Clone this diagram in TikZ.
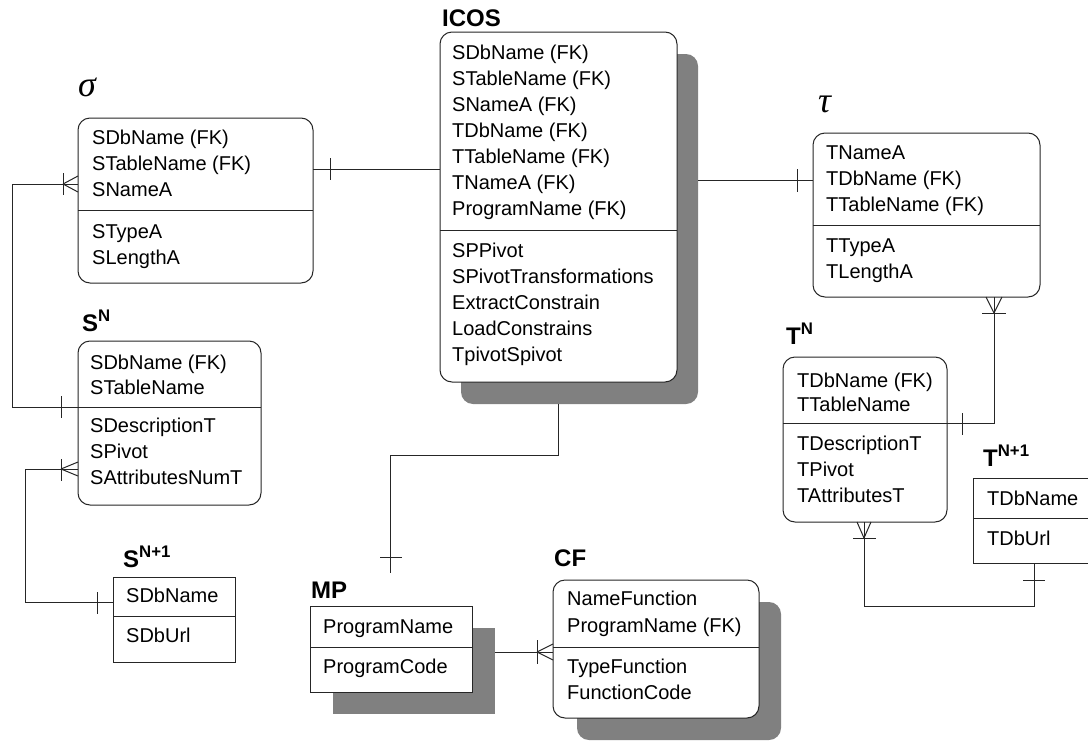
\documentclass[tikz,border=0pt]{standalone}
\usepackage{fontspec}
\setmainfont{Liberation Sans}
\newfontfamily\greekfont{Liberation Serif}
\newcommand\fieldrows[5]{% name prefix, x, first baseline, line step, fields
  \foreach \t [count=\i from 0] in {#5}
    \node[row] (#1\i) at (#2,{#3+\i*#4}) {\t};}
\tikzset{
  ent/.style={draw=black!85, line width=1pt, fill=white, rounded corners=12pt,
    anchor=north west, inner sep=0pt, outer sep=0pt},
  sqent/.style={ent, sharp corners},
  shade/.style={fill=black!50, draw=none, rounded corners=12pt,
    anchor=north west, inner sep=0pt, outer sep=0pt},
  sqshade/.style={shade, sharp corners},
  row/.style={anchor=base west, inner sep=0pt, font=\fontsize{20}{24}\selectfont},
  title/.style={anchor=base west, inner sep=0pt, font=\fontsize{24}{28}\selectfont\bfseries},
  greek/.style={anchor=base west, inner sep=0pt, font=\greekfont\itshape\fontsize{36}{40}\selectfont},
  conn/.style={line width=1pt, draw=black!85},
  divider/.style={line width=1pt, draw=black!85},
}
\begin{document}
\begin{tikzpicture}[x=1pt, y=-1pt]
\useasboundingbox (0,0) rectangle (1088,742);

% ---- shadows ----
\node[shade, minimum width=237pt, minimum height=350pt] (icossh) at (461,54) {};
\node[sqshade, minimum width=162pt, minimum height=86pt] (mpsh) at (333,628) {};
\node[shade, minimum width=204pt, minimum height=138pt] (cfsh) at (577,602) {};

% ---- entity boxes ----
\node[ent, minimum width=235pt, minimum height=165pt] (sig) at (78,118) {};
\node[ent, minimum width=237pt, minimum height=350pt] (icos) at (440,32) {};
\node[ent, minimum width=227pt, minimum height=164pt] (tau) at (813,133) {};
\node[ent, minimum width=183pt, minimum height=164pt] (sn) at (78,341) {};
\node[sqent, minimum width=122pt, minimum height=85pt] (sn1) at (113,577) {};
\node[sqent, minimum width=162pt, minimum height=86pt] (mp) at (310,606) {};
\node[ent, minimum width=206pt, minimum height=138pt] (cf) at (553,580) {};
\node[ent, minimum width=164pt, minimum height=165pt] (tn) at (783,357) {};
\node[sqent, minimum width=115pt, minimum height=85pt] (tn1) at (973,478) {};

% ---- key / attribute dividers ----
\draw[divider] (sig.west |- 0,210) -- (sig.east |- 0,210);
\draw[divider] (icos.west |- 0,230) -- (icos.east |- 0,230);
\draw[divider] (tau.west |- 0,225) -- (tau.east |- 0,225);
\draw[divider] (sn.west |- 0,407) -- (sn.east |- 0,407);
\draw[divider] (sn1.west |- 0,616) -- (sn1.east |- 0,616);
\draw[divider] (mp.west |- 0,647) -- (mp.east |- 0,647);
\draw[divider] (cf.west |- 0,647) -- (cf.east |- 0,647);
\draw[divider] (tn.west |- 0,423) -- (tn.east |- 0,423);
\draw[divider] (tn1.west |- 0,518) -- (tn1.east |- 0,518);

% ---- entity titles ----
\node[greek] (sigT) at (78,96) {σ};
\node[greek] (tauT) at (818,112) {τ};
\node[title] (icosT) at (442,26) {ICOS};
\node[title] (snT) at (82,331) {S\textsuperscript{N}};
\node[title] (sn1T) at (123,567) {S\textsuperscript{N+1}};
\node[title] (mpT) at (311,598) {MP};
\node[title] (cfT) at (554,566) {CF};
\node[title] (tnT) at (786,344) {T\textsuperscript{N}};
\node[title] (tn1T) at (983,466) {T\textsuperscript{N+1}};

% ---- attributes ----
\fieldrows{sigK}{92}{144}{26}{SDbName (FK),STableName (FK),SNameA}
\fieldrows{sigA}{92}{238}{26}{STypeA,SLengthA}
\fieldrows{icosK}{452}{59}{26}{SDbName (FK),STableName (FK),SNameA (FK),TDbName (FK),TTableName (FK),TNameA (FK),ProgramName (FK)}
\fieldrows{icosA}{452}{257}{26.2}{SPPivot,SPivotTransformations,ExtractConstrain,LoadConstrains,TpivotSpivot}
\fieldrows{tauK}{826}{159}{26}{TNameA,TDbName (FK),TTableName (FK)}
\fieldrows{tauA}{826}{252}{26}{TTypeA,TLengthA}
\fieldrows{snK}{90}{369}{25}{SDbName (FK),STableName}
\fieldrows{snA}{90}{432}{26}{SDescriptionT,SPivot,SAttributesNumT}
\fieldrows{sn1K}{126}{602}{26}{SDbName}
\fieldrows{sn1A}{126}{642}{26}{SDbUrl}
\fieldrows{mpK}{323}{633}{26}{ProgramName}
\fieldrows{mpA}{323}{673}{26}{ProgramCode}
\fieldrows{cfK}{567}{605}{27}{NameFunction,ProgramName (FK)}
\fieldrows{cfA}{567}{673}{26}{TypeFunction,FunctionCode}
\fieldrows{tnK}{797}{387}{24}{TDbName (FK),TTableName}
\fieldrows{tnA}{797}{450}{26}{TDescriptionT,TPivot,TAttributesT}
\fieldrows{tn1K}{987}{505}{26}{TDbName}
\fieldrows{tn1A}{987}{545}{26}{TDbUrl}

% ---- relationships ----
% sigma -- ICOS
\draw[conn] (sig.east |- 0,169) -- (icos.west |- 0,169);
\draw[conn] (330,158) -- (330,180);
% ICOS -- tau
\draw[conn] (icossh.east |- 0,180) -- (tau.west |- 0,180);
\draw[conn] (797,169) -- (797,192);
% S^N -- sigma (many sigma rows)
\draw[conn] (sig.west |- 0,184) -- (12,184) -- (12,407) -- (sn.west |- 0,407);
\draw[conn] (63,184) -- (78,176) (63,184) -- (78,192);
\draw[conn] (63,173) -- (63,195);
\draw[conn] (61,396) -- (61,418);
% S^{N+1} -- S^N
\draw[conn] (sn.west |- 0,469) -- (25,469) -- (25,602) -- (sn1.west |- 0,602);
\draw[conn] (61,469) -- (78,462) (61,469) -- (78,476);
\draw[conn] (61,459) -- (61,481);
\draw[conn] (97,592) -- (97,614);
% ICOS -- MP
\coordinate (mpend) at (390,573);
\draw[conn] (icossh.south -| 558,0) -- (558,455) -- (390,455) -- (mpend);
\draw[conn] (380,557) -- (402,557);
% MP -- CF
\draw[conn] (mpsh.east |- 0,652) -- (cf.west |- 0,652);
\draw[conn] (537,652) -- (553,644) (537,652) -- (553,660);
\draw[conn] (537,640) -- (537,664);
% tau -- T^N
\draw[conn] (tau.south -| 994,0) -- (994,423) -- (tn.east |- 0,423);
\draw[conn] (994,313) -- (986,297) (994,313) -- (1002,297);
\draw[conn] (982,313) -- (1006,313);
\draw[conn] (962,413) -- (962,435);
% T^N -- T^{N+1}
\draw[conn] (tn.south -| 864,0) -- (864,606) -- (1034,606) -- (tn1.south -| 1034,0);
\draw[conn] (864,538) -- (857,522) (864,538) -- (871,522);
\draw[conn] (853,538) -- (876,538);
\draw[conn] (1023,580) -- (1045,580);
\end{tikzpicture}
\end{document}
